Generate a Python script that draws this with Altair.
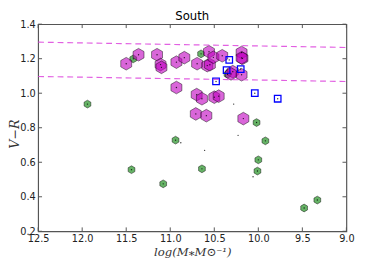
import altair as alt
import pandas as pd

# Magenta hexagons (large)
mag_mass = [11.50, 11.36, 11.15, 11.11, 11.10, 10.93, 10.84, 10.93, 10.695, 10.56, 10.58, 10.55,
            10.51, 10.41, 10.19, 10.18, 10.19, 10.29, 10.31, 10.19, 10.70, 10.64, 10.50, 10.45,
            10.71, 10.59, 10.17]
mag_vr = [1.171, 1.223, 1.223, 1.166, 1.150, 1.180, 1.206, 1.033, 1.171, 1.240, 1.160, 1.165,
          1.208, 1.217, 1.236, 1.202, 1.205, 1.125, 1.112, 1.107, 0.992, 0.968, 0.977, 0.983,
          0.880, 0.870, 0.853]

# Green hexagons (small)
grn_mass = [11.94, 11.42, 10.65, 10.35, 10.02, 10.94, 9.92, 10.00, 10.01, 11.44, 10.64, 11.08, 9.48, 9.33]
grn_vr = [0.937, 1.199, 1.228, 1.110, 0.830, 0.728, 0.724, 0.614, 0.549, 0.557, 0.562, 0.475, 0.335, 0.381]

# Blue open squares
blu_mass = [10.33, 10.36, 10.20, 10.48, 10.04, 9.78]
blu_vr = [1.193, 1.134, 1.140, 1.068, 1.000, 0.968]

# Extra tiny black dots
dot_mass = [10.28, 10.23, 10.88, 10.61, 10.06]
dot_vr = [0.937, 0.756, 0.713, 0.669, 0.516]

# Dashed boundary lines
line_mass = [12.5, 9.0]
upper_vr = [1.296, 1.265]
lower_vr = [1.097, 1.068]

x_ticks = [12.5, 12.0, 11.5, 11.0, 10.5, 10.0, 9.5, 9.0]
y_ticks = [0.2, 0.4, 0.6, 0.8, 1.0, 1.2, 1.4]

W, H = 317, 213

xs = alt.Scale(domain=[9.0, 12.5], reverse=True, nice=False, zero=False)
ys = alt.Scale(domain=[0.2, 1.4], nice=False, zero=False)

hexpath = "M0,-1L0.866,-0.5L0.866,0.5L0,1L-0.866,0.5L-0.866,-0.5Z"

x_axis = alt.Axis(values=x_ticks, format=".1f", title="log(M⁎M⊙⁻¹)",
                  labelOverlap=False, labelFlush=False,
                  titleFont="DejaVu Serif", titleFontStyle="italic",
                  titleFontWeight="normal", titleFontSize=12, titlePadding=3,
                  titleColor="#333")
y_axis = alt.Axis(values=y_ticks, format=".1f", title="V−R",
                  labelOverlap=False, labelFlush=False,
                  titleFont="DejaVu Serif", titleFontStyle="italic",
                  titleFontWeight="normal", titleFontSize=13,
                  titleX=-20, titleY=H / 2 + 6, titleBaseline="alphabetic",
                  titleAlign="center", titleColor="#333")

x_enc = alt.X("m:Q", scale=xs, axis=x_axis)
y_enc = alt.Y("v:Q", scale=ys, axis=y_axis)

grn = alt.Chart(pd.DataFrame({"m": grn_mass, "v": grn_vr})).mark_point(
    shape=hexpath, size=64, filled=True, fill="#008000", fillOpacity=0.6,
    stroke="black", strokeOpacity=0.45, strokeWidth=1
).encode(x=x_enc, y=y_enc)

mag = alt.Chart(pd.DataFrame({"m": mag_mass, "v": mag_vr})).mark_point(
    shape=hexpath, size=169, filled=True, fill="#bf00bf", fillOpacity=0.6,
    stroke="black", strokeOpacity=0.45, strokeWidth=1
).encode(x=x_enc, y=y_enc)

blu = alt.Chart(pd.DataFrame({"m": blu_mass, "v": blu_vr})).mark_point(
    shape="square", size=45, filled=False, stroke="#0000ff", strokeWidth=1.3, opacity=1
).encode(x=x_enc, y=y_enc)

all_m = mag_mass + grn_mass + blu_mass + dot_mass
all_v = mag_vr + grn_vr + blu_vr + dot_vr
dots = alt.Chart(pd.DataFrame({"m": all_m, "v": all_v})).mark_circle(
    size=2, color="black", opacity=0.8
).encode(x=x_enc, y=y_enc)

lines_df = pd.DataFrame({
    "m": line_mass + line_mass,
    "v": upper_vr + lower_vr,
    "g": ["upper", "upper", "lower", "lower"],
})
lines = alt.Chart(lines_df).mark_line(
    strokeDash=[6, 4], color="#dd44dd", strokeWidth=1.2, opacity=0.85
).encode(x=x_enc, y=y_enc, detail="g:N")

xt = pd.DataFrame({"m": x_ticks})
yt = pd.DataFrame({"v": y_ticks})
tick_col = "#555555"
bt = alt.Chart(xt).mark_rule(color=tick_col, strokeWidth=1).encode(
    x=x_enc, y=alt.value(H), y2=alt.value(H - 4))
tt = alt.Chart(xt).mark_rule(color=tick_col, strokeWidth=1).encode(
    x=x_enc, y=alt.value(0), y2=alt.value(4))
lt = alt.Chart(yt).mark_rule(color=tick_col, strokeWidth=1).encode(
    y=y_enc, x=alt.value(0), x2=alt.value(4))
rt = alt.Chart(yt).mark_rule(color=tick_col, strokeWidth=1).encode(
    y=y_enc, x=alt.value(W), x2=alt.value(W - 4))

chart = alt.layer(grn, mag, blu, dots, lines, bt, tt, lt, rt).properties(
    width=W, height=H,
    title=alt.TitleParams("South", font="DejaVu Sans", fontSize=12, fontWeight="normal",
                          color="black", offset=2, dy=6),
    autosize="none",
    padding={"left": 31, "top": 13, "right": 14, "bottom": 30},
).configure_view(
    stroke="#555555", strokeWidth=1.2
).configure_axis(
    grid=False, domain=False, ticks=False, labelFont="DejaVu Sans", labelFontSize=10,
    labelColor="#222", labelPadding=3, labelOverlap=False, labelFlush=False
).configure_axisX(labelPadding=3)

chart.save("out.html", embed_options={"renderer": "svg", "actions": False})
